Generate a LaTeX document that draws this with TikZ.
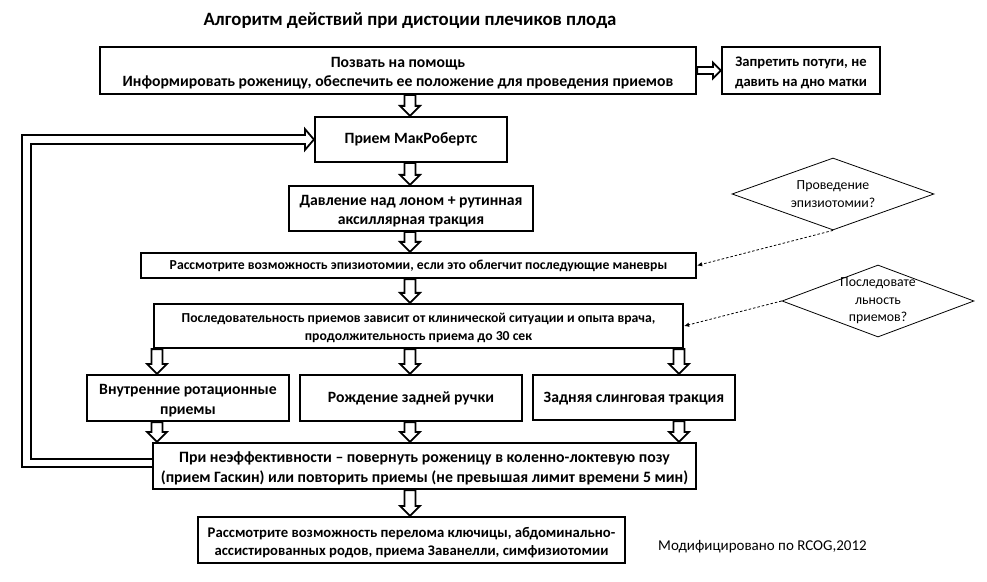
\documentclass[tikz,border=0pt]{standalone}
\usepackage{fontspec}
\setmainfont{Carlito}
\usetikzlibrary{shapes.geometric,arrows.meta,calc}
\newcommand\tp{\rule{0pt}{1em}}
\newcommand\hdown[3]{\draw[harrow] let \p1=(#1.south), \p2=(#2.north) in
 (#3bp-5.5bp,\y1) -- (#3bp+5.5bp,\y1) -- (#3bp+5.5bp,\y2+10bp) -- (#3bp+10bp,\y2+10bp)
 -- (#3bp,\y2) -- (#3bp-10bp,\y2+10bp) -- (#3bp-5.5bp,\y2+10bp) -- cycle;}
\begin{document}
\begin{tikzpicture}[x=1bp,y=-1bp,
  box/.style n args={2}{draw, line width=2.2bp, inner sep=0pt, align=center,
    minimum width=#1bp, minimum height=#2bp,
    font=\bfseries\fontsize{15.7bp}{19.3bp}\selectfont},
  harrow/.style={draw, line width=1.8bp, fill=white},
  dia/.style={diamond, draw, line width=0.8bp, inner sep=0pt},
  diatext/.style={align=center, font=\fontsize{13.8bp}{17.5bp}\selectfont},
  dotarrow/.style={line width=0.8bp, dash pattern=on 2.5bp off 2bp,
    -{Latex[length=5bp,width=4.5bp]}}]
\useasboundingbox (0,0) rectangle (987,582);

\node[font=\bfseries\fontsize{18.8bp}{22bp}\selectfont] (title) at (410,21)
  {Алгоритм действий при дистоции плечиков плода};

\node[box={596}{47}] (b1) at (398,70.5)
  {\tp Позвать на помощь\\Информировать роженицу, обеспечить ее положение для проведения приемов};
\node[box={158}{47}, font=\bfseries\fontsize{14.6bp}{19.3bp}\selectfont] (b2) at (801,70.5)
  {\tp Запретить потуги, не\\давить на дно матки};
\node[box={192}{45}] (b3) at (411,139.5) {Прием МакРобертс};
\node[box={244}{45}] (b4) at (411,208.5)
  {\tp Давление над лоном + рутинная\\аксиллярная тракция};
\node[box={555}{25}, font=\bfseries\fontsize{13.7bp}{15bp}\selectfont] (b5) at (418.5,265.5)
  {Рассмотрите возможность эпизиотомии, если это облегчит последующие маневры};
\node[box={529}{44}, font=\bfseries\fontsize{13.7bp}{18.3bp}\selectfont] (b6) at (418.5,326)
  {\tp Последовательность приемов зависит от клинической ситуации и опыта врача,\\продолжительность приема до 30 сек};
\node[box={202}{46}] (b7) at (188,398) {\tp Внутренние ротационные\\приемы};
\node[box={222}{46}] (b8) at (411,398) {Рождение задней ручки};
\node[box={202}{45}] (b9) at (634,397.5) {\rule{0pt}{0.78em}Задняя слинговая тракция};
\node[box={543}{46}, font=\bfseries\fontsize{15.8bp}{20.6bp}\selectfont] (b10) at (424.5,466)
  {\tp При неэффективности – повернуть роженицу в коленно-локтевую позу\\(прием Гаскин) или повторить приемы (не превышая лимит времени 5 мин)};
\node[box={427}{46}, font=\bfseries\fontsize{14.7bp}{18.3bp}\selectfont] (b11) at (411.5,540)
  {\tp Рассмотрите возможность перелома ключицы, абдоминально-\\ассистированных родов, приема Заванелли, симфизиотомии};

\node[font=\fontsize{15bp}{17bp}\selectfont] (note) at (762.5,547) {Модифицировано по RCOG,2012};

\node[dia, minimum width=202bp, minimum height=72bp] (d1) at (833,194) {};
\node[diatext] (d1t) at (d1.center) {Проведение\\эпизиотомии?};
\node[dia, minimum width=192bp, minimum height=72bp] (d2) at (878,301) {};
\node[diatext] (d2t) at (d2.center) {Последовате\\льность\\приемов?};

\coordinate (loopx) at (26.5,0);

% hollow arrows
\draw[harrow] let \p1=(b1.east), \p2=(b2.west) in
  (\x1,\y1+3.5bp) -- (\x2-8bp,\y1+3.5bp) -- (\x2-8bp,\y1+8bp) -- (\x2,\y1)
  -- (\x2-8bp,\y1-8bp) -- (\x2-8bp,\y1-3.5bp) -- (\x1,\y1-3.5bp) -- cycle;
\hdown{b1}{b3}{410}
\hdown{b3}{b4}{410}
\hdown{b4}{b5}{410}
\hdown{b5}{b6}{410}
\hdown{b6}{b7}{157}
\hdown{b6}{b8}{410}
\hdown{b6}{b9}{679}
\hdown{b7}{b10}{157}
\hdown{b8}{b10}{410}
\hdown{b9}{b10}{679}
\hdown{b10}{b11}{410}

% loop back to McRoberts
\draw[harrow, fill=none] let \p1=(b10.west), \p2=(b3.west), \p3=(loopx) in
  (\x1,\y1+7bp) -- (\x3+4.5bp,\y1+7bp) -- (\x3+4.5bp,\y2-4.5bp) -- (\x2-9bp,\y2-4.5bp)
  -- (\x2-9bp,\y2-10.5bp) -- (\x2,\y2) -- (\x2-9bp,\y2+10.5bp) -- (\x2-9bp,\y2+4.5bp)
  -- (\x3-4.5bp,\y2+4.5bp) -- (\x3-4.5bp,\y1-1bp) -- (\x1,\y1-1bp);

% dotted connectors
\draw[dotarrow] (d1.south) -- (b5.east);
\draw[dotarrow] (d2.west) -- (b6.east);
\end{tikzpicture}
\end{document}
